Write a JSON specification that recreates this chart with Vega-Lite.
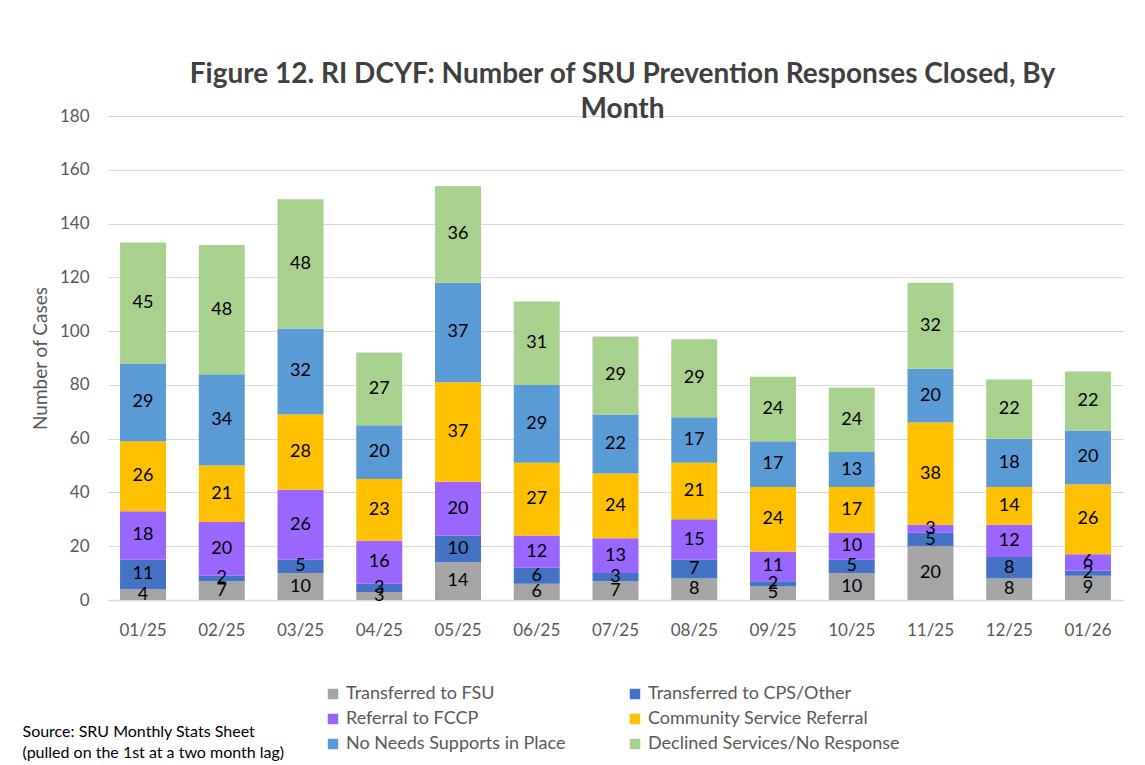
{
  "$schema": "https://vega.github.io/schema/vega-lite/v6.json",
  "autosize": {"type": "none"},
  "width": 1015,
  "height": 484,
  "padding": {"left": 108, "top": 116, "right": 22, "bottom": 165},
  "background": "white",
  "config": {
    "view": {"stroke": null},
    "font": "Lato"
  },
  "title": {
    "text": ["Figure 12. RI DCYF: Number of SRU Prevention Responses Closed, By", "Month"],
    "font": "Lato",
    "fontSize": 28,
    "fontWeight": "bold",
    "color": "#404040",
    "anchor": "middle",
    "lineHeight": 35,
    "offset": -17,
    "dx": 7
  },
  "data": {
    "values": [
      {"month": "01/25", "category": "Transferred to FSU", "value": 4},
      {"month": "01/25", "category": "Transferred to CPS/Other", "value": 11},
      {"month": "01/25", "category": "Referral to FCCP", "value": 18},
      {"month": "01/25", "category": "Community Service Referral", "value": 26},
      {"month": "01/25", "category": "No Needs Supports in Place", "value": 29},
      {"month": "01/25", "category": "Declined Services/No Response", "value": 45},
      {"month": "02/25", "category": "Transferred to FSU", "value": 7},
      {"month": "02/25", "category": "Transferred to CPS/Other", "value": 2},
      {"month": "02/25", "category": "Referral to FCCP", "value": 20},
      {"month": "02/25", "category": "Community Service Referral", "value": 21},
      {"month": "02/25", "category": "No Needs Supports in Place", "value": 34},
      {"month": "02/25", "category": "Declined Services/No Response", "value": 48},
      {"month": "03/25", "category": "Transferred to FSU", "value": 10},
      {"month": "03/25", "category": "Transferred to CPS/Other", "value": 5},
      {"month": "03/25", "category": "Referral to FCCP", "value": 26},
      {"month": "03/25", "category": "Community Service Referral", "value": 28},
      {"month": "03/25", "category": "No Needs Supports in Place", "value": 32},
      {"month": "03/25", "category": "Declined Services/No Response", "value": 48},
      {"month": "04/25", "category": "Transferred to FSU", "value": 3},
      {"month": "04/25", "category": "Transferred to CPS/Other", "value": 3},
      {"month": "04/25", "category": "Referral to FCCP", "value": 16},
      {"month": "04/25", "category": "Community Service Referral", "value": 23},
      {"month": "04/25", "category": "No Needs Supports in Place", "value": 20},
      {"month": "04/25", "category": "Declined Services/No Response", "value": 27},
      {"month": "05/25", "category": "Transferred to FSU", "value": 14},
      {"month": "05/25", "category": "Transferred to CPS/Other", "value": 10},
      {"month": "05/25", "category": "Referral to FCCP", "value": 20},
      {"month": "05/25", "category": "Community Service Referral", "value": 37},
      {"month": "05/25", "category": "No Needs Supports in Place", "value": 37},
      {"month": "05/25", "category": "Declined Services/No Response", "value": 36},
      {"month": "06/25", "category": "Transferred to FSU", "value": 6},
      {"month": "06/25", "category": "Transferred to CPS/Other", "value": 6},
      {"month": "06/25", "category": "Referral to FCCP", "value": 12},
      {"month": "06/25", "category": "Community Service Referral", "value": 27},
      {"month": "06/25", "category": "No Needs Supports in Place", "value": 29},
      {"month": "06/25", "category": "Declined Services/No Response", "value": 31},
      {"month": "07/25", "category": "Transferred to FSU", "value": 7},
      {"month": "07/25", "category": "Transferred to CPS/Other", "value": 3},
      {"month": "07/25", "category": "Referral to FCCP", "value": 13},
      {"month": "07/25", "category": "Community Service Referral", "value": 24},
      {"month": "07/25", "category": "No Needs Supports in Place", "value": 22},
      {"month": "07/25", "category": "Declined Services/No Response", "value": 29},
      {"month": "08/25", "category": "Transferred to FSU", "value": 8},
      {"month": "08/25", "category": "Transferred to CPS/Other", "value": 7},
      {"month": "08/25", "category": "Referral to FCCP", "value": 15},
      {"month": "08/25", "category": "Community Service Referral", "value": 21},
      {"month": "08/25", "category": "No Needs Supports in Place", "value": 17},
      {"month": "08/25", "category": "Declined Services/No Response", "value": 29},
      {"month": "09/25", "category": "Transferred to FSU", "value": 5},
      {"month": "09/25", "category": "Transferred to CPS/Other", "value": 2},
      {"month": "09/25", "category": "Referral to FCCP", "value": 11},
      {"month": "09/25", "category": "Community Service Referral", "value": 24},
      {"month": "09/25", "category": "No Needs Supports in Place", "value": 17},
      {"month": "09/25", "category": "Declined Services/No Response", "value": 24},
      {"month": "10/25", "category": "Transferred to FSU", "value": 10},
      {"month": "10/25", "category": "Transferred to CPS/Other", "value": 5},
      {"month": "10/25", "category": "Referral to FCCP", "value": 10},
      {"month": "10/25", "category": "Community Service Referral", "value": 17},
      {"month": "10/25", "category": "No Needs Supports in Place", "value": 13},
      {"month": "10/25", "category": "Declined Services/No Response", "value": 24},
      {"month": "11/25", "category": "Transferred to FSU", "value": 20},
      {"month": "11/25", "category": "Transferred to CPS/Other", "value": 5},
      {"month": "11/25", "category": "Referral to FCCP", "value": 3},
      {"month": "11/25", "category": "Community Service Referral", "value": 38},
      {"month": "11/25", "category": "No Needs Supports in Place", "value": 20},
      {"month": "11/25", "category": "Declined Services/No Response", "value": 32},
      {"month": "12/25", "category": "Transferred to FSU", "value": 8},
      {"month": "12/25", "category": "Transferred to CPS/Other", "value": 8},
      {"month": "12/25", "category": "Referral to FCCP", "value": 12},
      {"month": "12/25", "category": "Community Service Referral", "value": 14},
      {"month": "12/25", "category": "No Needs Supports in Place", "value": 18},
      {"month": "12/25", "category": "Declined Services/No Response", "value": 22},
      {"month": "01/26", "category": "Transferred to FSU", "value": 9},
      {"month": "01/26", "category": "Transferred to CPS/Other", "value": 2},
      {"month": "01/26", "category": "Referral to FCCP", "value": 6},
      {"month": "01/26", "category": "Community Service Referral", "value": 26},
      {"month": "01/26", "category": "No Needs Supports in Place", "value": 20},
      {"month": "01/26", "category": "Declined Services/No Response", "value": 22}
    ]
  },
  "transform": [
    {"calculate": "indexof(['Transferred to FSU','Transferred to CPS/Other','Referral to FCCP','Community Service Referral','No Needs Supports in Place','Declined Services/No Response'], datum.category)", "as": "rank"},
    {"stack": "value", "groupby": ["month"], "sort": [{"field": "rank", "order": "ascending"}], "as": ["y0", "y1"]},
    {"calculate": "(datum.y0 + datum.y1) / 2", "as": "ymid"}
  ],
  "encoding": {
    "x": {
      "field": "month",
      "type": "ordinal",
      "sort": null,
      "scale": {"paddingInner": 0.416, "paddingOuter": 0.153},
      "axis": {
        "labelAngle": 0,
        "labelFontSize": 17,
        "labelColor": "#595959",
        "labelPadding": 22,
        "ticks": false,
        "domain": true,
        "domainColor": "#D9D9D9",
        "domainWidth": 1.5,
        "title": ["Source: SRU Monthly Stats Sheet", "(pulled on the 1st at a two month lag)"],
        "titleFontSize": 16,
        "titleFontWeight": "normal",
        "titleColor": "#000000",
        "titleAnchor": "start",
        "titleAlign": "left",
        "titleBaseline": "alphabetic",
        "titleLineHeight": 21,
        "titleX": -86,
        "titleY": 136
      }
    }
  },
  "layer": [
    {
      "mark": {"type": "bar"},
      "encoding": {
        "y": {
          "field": "y0",
          "type": "quantitative",
          "scale": {"domain": [0, 180], "nice": false},
          "axis": {
            "values": [0, 20, 40, 60, 80, 100, 120, 140, 160, 180],
            "grid": true,
            "gridColor": "#D9D9D9",
            "gridWidth": 1.2,
            "domain": false,
            "ticks": false,
            "labelFontSize": 17,
            "labelColor": "#595959",
            "labelPadding": 19,
            "title": "Number of Cases",
            "titleFontSize": 19,
            "titleFontWeight": "normal",
            "titleColor": "#595959",
            "titlePadding": 9
          }
        },
        "y2": {"field": "y1"},
        "color": {
          "field": "category",
          "type": "nominal",
          "scale": {
            "domain": ["Transferred to FSU", "Transferred to CPS/Other", "Referral to FCCP", "Community Service Referral", "No Needs Supports in Place", "Declined Services/No Response"],
            "range": ["#A5A5A5", "#4472C4", "#9966FF", "#FFC000", "#5B9BD5", "#A9D18E"]
          },
          "legend": {
            "title": null,
            "orient": "none",
            "legendX": 216,
            "legendY": 569,
            "direction": "horizontal",
            "columns": 2,
            "columnPadding": 60,
            "rowPadding": 7,
            "symbolType": "square",
            "symbolSize": 110,
            "symbolStrokeWidth": 0,
            "labelFontSize": 18,
            "labelColor": "#595959",
            "labelOffset": 4,
            "labelLimit": 400
          }
        }
      }
    },
    {
      "mark": {"type": "text", "fontSize": 18, "color": "#000000", "baseline": "middle"},
      "encoding": {
        "y": {"field": "ymid", "type": "quantitative"},
        "text": {"field": "value", "type": "quantitative"}
      }
    }
  ]
}
